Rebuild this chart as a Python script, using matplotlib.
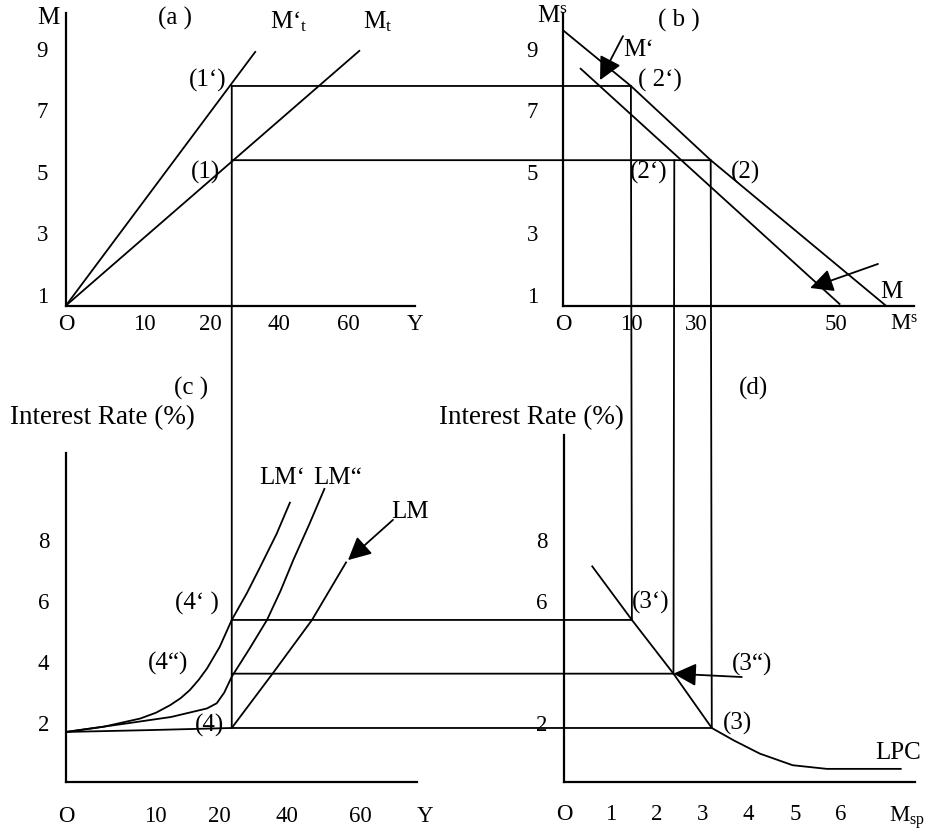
import matplotlib
matplotlib.use("Agg")
import matplotlib.pyplot as plt
from matplotlib.patches import ConnectionPatch

plt.rcParams['font.family'] = ['Liberation Serif', 'DejaVu Serif']
plt.rcParams['mathtext.fontset'] = 'custom'
plt.rcParams['mathtext.rm'] = 'Liberation Serif'
plt.rcParams['mathtext.it'] = 'Liberation Serif:italic'

W, H = 948, 832
FS = 18   # label size
TS = 16.5   # tick label size

# ---- (a) transactions demand for money
a_xticks = [0, 10.4, 19.3, 28.4, 37.7, 46.5]
a_xlabels = ['O', '10', '20', '40', '60', 'Y']
a_yticks = [1, 3, 5, 7, 9]
mt_y = [0, 39.2]
mt_m = [0.66, 8.95]
mt2_y = [0, 25.3]
mt2_m = [0.66, 8.92]
y_star = 22.1          # income level
m_1p, m_1 = 7.79, 5.38  # points (1') and (1)

# ---- (b) money supply split
b_xticks = [0, 9.8, 19.1, 39.0, 48.7]
b_xlabels = ['O', '10', '30', '50', r'M$^{\mathrm{s}}$']
b_yticks = [1, 3, 5, 7, 9]
ms_x = [0, 9.7, 21.1, 46.1]
ms_y = [9.6, 7.79, 5.38, 0.66]
ms2_x = [2.43, 39.6]
ms2_y = [8.37, 0.69]
b_2p, b_2pp, b_2 = 9.7, 15.9, 21.1

# ---- (c) LM curves
c_xticks = [0, 11.9, 20.5, 29.5, 39.2, 47.9]
c_xlabels = ['O', '10', '20', '40', '60', 'Y']
c_yticks = [2, 4, 6, 8]
lm_y = [0, 11, 22.1, 27.6, 32.8, 37.4]
lm_r = [1.71, 1.77, 1.84, 3.64, 5.38, 7.29]
lm1_y = [0, 5.0, 9.9, 12.0, 13.9, 15.3, 16.5, 17.7, 18.8, 20.5, 22.1, 24.1, 25.9, 28.1, 29.9]
lm1_r = [1.71, 1.88, 2.15, 2.34, 2.59, 2.82, 3.08, 3.42, 3.79, 4.50, 5.38, 6.25, 7.12, 8.21, 9.25]
lm2_y = [0, 8.1, 14.0, 18.8, 20.1, 21.1, 22.1, 24.5, 26.8, 28.6, 30.3, 32.5, 34.5]
lm2_r = [1.71, 1.99, 2.2, 2.48, 2.65, 3.0, 3.52, 4.45, 5.38, 6.33, 7.34, 8.55, 9.7]
r_4p, r_4pp, r_4 = 5.38, 3.62, 1.84

# ---- (d) liquidity preference
d_xticks = [0, 1, 2, 3, 4, 5, 6, 7.42]
d_xlabels = ['O', '1', '2', '3', '4', '5', '6', r'M$_{\mathrm{sp}}$']
d_yticks = [2, 6, 8]
lpc_x = [0.6, 1.47, 2.37, 3.2, 3.68, 4.24, 4.95, 5.69, 7.31]
lpc_r = [7.16, 5.38, 3.62, 1.84, 1.43, 1.0, 0.62, 0.5, 0.5]
d_3p, d_3pp, d_3 = 1.47, 2.37, 3.2


def px(x, y):
    return x / W, 1 - y / H


def make_ax(left, top, right, bottom):
    ax = fig.add_axes([left / W, 1 - bottom / H, (right - left) / W, (bottom - top) / H])
    for s in ['top', 'right']:
        ax.spines[s].set_visible(False)
    for s in ['left', 'bottom']:
        ax.spines[s].set_linewidth(1.6)
    ax.patch.set_visible(False)
    return ax


def set_ticks(ax, xt, xl, yt, xpad, ypad, xlim, ylim):
    ax.set_xticks(xt, xl)
    ax.set_yticks(yt)
    ax.tick_params(axis='x', length=0, pad=xpad, labelsize=TS)
    ax.tick_params(axis='y', length=0, pad=ypad, labelsize=TS)
    # limits after the ticks so the ticks do not stretch the view
    ax.set_xlim(*xlim)
    ax.set_ylim(*ylim)


fig = plt.figure(figsize=(W / 100, H / 100), dpi=100)
lw = 1.3
kw = dict(color='black', lw=lw, solid_capstyle='butt')

ax_a = make_ax(66, 13, 414.75, 305.5)
ax_b = make_ax(563, 13, 913.7, 305.5)
ax_c = make_ax(66, 453, 426, 782)
ax_d = make_ax(564, 435, 915, 782)

set_ticks(ax_a, a_xticks, a_xlabels, a_yticks, 6, 13, (0, 46.5), (0.66, 10.16))
set_ticks(ax_b, b_xticks, b_xlabels, b_yticks, 6, 18, (0, 50.1), (0.66, 10.16))
set_ticks(ax_c, c_xticks, c_xlabels, c_yticks, 17, 12, (0, 48), (0.07, 10.85))
set_ticks(ax_d, d_xticks, d_xlabels, d_yticks, 16, 12, (0, 7.6), (0.07, 11.44))
ax_c.spines['bottom'].set_bounds(0, 46.8)

# curves
ax_a.plot(mt_y, mt_m, **kw)
ax_a.plot(mt2_y, mt2_m, **kw)
ax_b.plot(ms_x, ms_y, **kw)
ax_b.plot(ms2_x, ms2_y, **kw)
ax_c.plot(lm_y, lm_r, **kw)
ax_c.plot(lm1_y, lm1_r, **kw)
ax_c.plot(lm2_y, lm2_r, **kw)
ax_d.plot(lpc_x, lpc_r, **kw)

# connecting lines between the four panels
links = [
    (ax_a, (y_star, m_1p), ax_b, (b_2p, m_1p)),
    (ax_a, (y_star, m_1), ax_b, (b_2, m_1)),
    (ax_a, (y_star, m_1p), ax_c, (y_star, r_4)),
    (ax_b, (b_2p, m_1p), ax_d, (d_3p, r_4p)),
    (ax_b, (b_2pp, m_1), ax_d, (d_3pp, r_4pp)),
    (ax_b, (b_2, m_1), ax_d, (d_3, r_4)),
    (ax_c, (y_star, r_4p), ax_d, (d_3p, r_4p)),
    (ax_c, (y_star, r_4pp), ax_d, (d_3pp, r_4pp)),
    (ax_c, (y_star, r_4), ax_d, (d_3, r_4)),
]
for axA, pA, axB, pB in links:
    con = ConnectionPatch(xyA=pA, coordsA=axA.transData, xyB=pB, coordsB=axB.transData,
                          color='black', lw=lw)
    fig.add_artist(con)

# arrows
arr = dict(arrowstyle='-|>,head_length=0.7,head_width=0.35', color='black', lw=lw,
           mutation_scale=20, shrinkA=0, shrinkB=0)
ax_b.annotate('', xy=(5.29, 7.98), xytext=(8.57, 9.41), arrowprops=arr, annotation_clip=False)
ax_b.annotate('', xy=(35.3, 1.23), xytext=(45.0, 2.01), arrowprops=arr, annotation_clip=False)
ax_c.annotate('', xy=(37.6, 7.34), xytext=(43.6, 8.66), arrowprops=arr, annotation_clip=False)
ax_d.annotate('', xy=(2.37, 3.62), xytext=(3.85, 3.51), arrowprops=arr, annotation_clip=False)

# texts
labels = [
    ('M', 48, 18, 'center', FS),
    ('(a )', 175, 18, 'center', FS),
    ('M‘$_{\\mathrm{t}}$', 270, 22, 'left', FS),
    ('M$_{\\mathrm{t}}$', 363, 22, 'left', FS),
    ('(1‘)', 208, 80, 'center', FS),
    ('(1)', 206, 172, 'center', FS),
    ('M$^{\\mathrm{s}}$', 552, 16, 'center', FS),
    ('( b )', 679, 20, 'center', FS),
    ('M‘', 639, 50, 'center', FS),
    ('( 2‘)', 660, 80, 'center', FS),
    ('(2‘)', 649, 172, 'center', FS),
    ('(2)', 745, 172, 'center', FS),
    ('M', 891, 292, 'center', FS),
    ('(c )', 191, 388, 'center', FS),
    ('Interest Rate (%)', 102, 418, 'center', 19.5),
    ('LM‘', 282, 478, 'center', FS),
    ('LM“', 338, 478, 'center', FS),
    ('LM', 410, 512, 'center', FS),
    ('(4‘ )', 197, 603, 'center', FS),
    ('(4“)', 168, 663, 'center', FS),
    ('(4)', 209, 725, 'center', FS),
    ('(d)', 754, 388, 'center', FS),
    ('Interest Rate (%)', 531, 418, 'center', 19.5),
    ('(3‘)', 651, 602, 'center', FS),
    ('(3“)', 752, 664, 'center', FS),
    ('(3)', 737, 723, 'center', FS),
    ('LPC', 898, 753, 'center', FS),
]
for s, x, y, ha, size in labels:
    fig.text(*px(x, y), s, ha=ha, va='center', fontsize=size)

fig.savefig('out.png', dpi=100)
